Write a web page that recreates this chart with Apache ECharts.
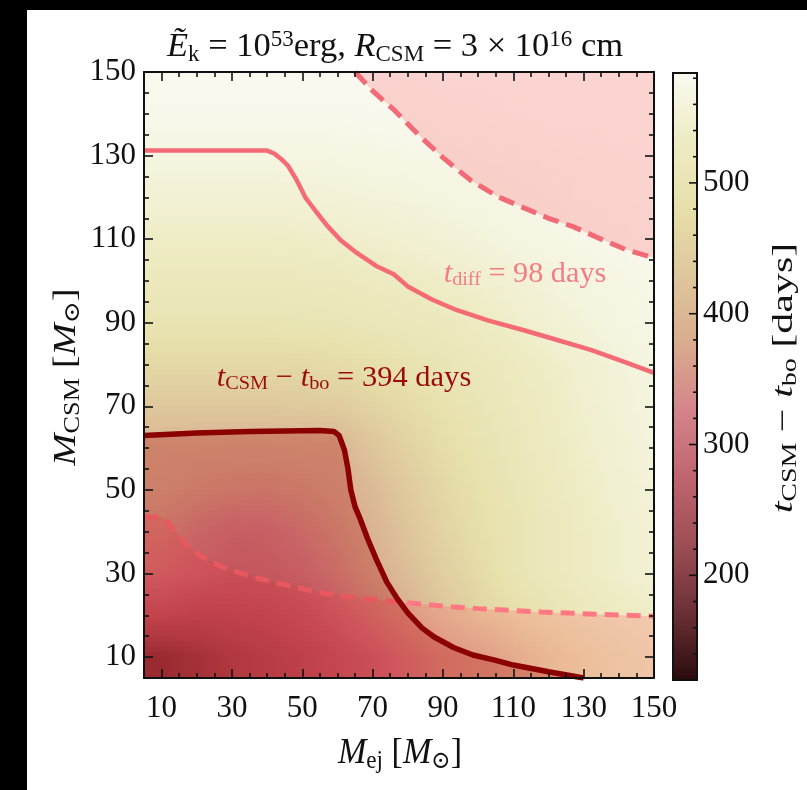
<!DOCTYPE html>
<html>
<head>
<meta charset="utf-8">
<script src="https://cdn.jsdelivr.net/npm/echarts@6/dist/echarts.min.js"></script>
<style>
  html, body { margin: 0; padding: 0; background: #000; }
  #chart { width: 807px; height: 790px; }
</style>
</head>
<body>
<div id="chart"></div>
<script>
// Grid of t_CSM - t_bo [days] over (M_ej, M_CSM), cell centres every 10 Msun
const mejCenters = [10, 20, 30, 40, 50, 60, 70, 80, 90, 100, 110, 120, 130, 140, 150];
const mcsmRows = [150, 140, 130, 120, 110, 100, 90, 80, 70, 60, 50, 40, 30, 20, 10];
const tDelay = [
  [582, 582, 582, 582, 582, 582, 582, 582, 583, 583, 583, 584, 584, 584, 584],
  [577, 577, 577, 577, 577, 577, 578, 579, 580, 581, 582, 583, 583, 584, 584],
  [566, 566, 566, 566, 566, 567, 569, 571, 573, 575, 577, 579, 580, 581, 582],
  [551, 551, 551, 551, 552, 554, 557, 560, 564, 568, 572, 575, 578, 580, 581],
  [535, 535, 535, 535, 537, 540, 543, 547, 552, 558, 564, 569, 573, 576, 578],
  [517, 517, 517, 517, 519, 522, 526, 531, 537, 544, 551, 558, 564, 569, 573],
  [497, 497, 497, 497, 499, 503, 508, 514, 520, 530, 540, 550, 558, 565, 570],
  [464, 464, 464, 464, 467, 472, 480, 490, 500, 512, 524, 536, 547, 556, 564],
  [432, 432, 432, 432, 434, 440, 455, 472, 488, 503, 517, 531, 544, 554, 562],
  [392, 390, 389, 389, 390, 393, 425, 452, 475, 494, 510, 526, 540, 551, 559],
  [380, 370, 362, 360, 368, 380, 405, 437, 463, 485, 503, 520, 535, 547, 556],
  [360, 335, 320, 322, 340, 365, 392, 425, 455, 478, 498, 515, 530, 542, 552],
  [335, 318, 305, 308, 320, 345, 382, 412, 445, 470, 497, 515, 530, 542, 550],
  [275, 265, 268, 275, 290, 315, 348, 385, 425, 455, 478, 498, 515, 528, 538],
  [185, 205, 228, 245, 262, 282, 305, 340, 375, 395, 430, 460, 485, 505, 520]
];

// Contour t_CSM - t_bo = 394 days
const contour394 = [
  [5, 63], [20, 63.6], [35, 64], [55, 64.2], [59, 64], [60.5, 63], [62, 59.5], [63, 55],
  [63.8, 50], [65, 46], [66.5, 43], [68.5, 38.5], [71, 33.5], [74, 28], [77, 24], [80, 20.6],
  [84, 17], [87.5, 14.8], [93, 12.3], [98.5, 10.5], [105, 9.2], [110, 8.1], [120, 6.5], [130, 5]
];
// Contour t_diff = 98 days
const contourDiff = [
  [5, 131.2], [40, 131.2], [42, 130.5], [44, 129.2], [46, 127.5], [48.5, 124], [51, 119.8],
  [54, 116.5], [57, 113.3], [61, 109.7], [65.5, 106.7], [71, 103.6], [76, 101.6], [80, 98.7],
  [87, 95.5], [94, 93], [103, 90.5], [113, 88.2], [122, 86], [132, 83.5], [141, 80.8], [150, 78]
];
// Lower excluded boundary
const lowerBound = [
  [5, 43.5], [10, 43.5], [12, 42], [14, 40], [17, 37], [21, 34.2], [27, 31.6], [35, 29.4],
  [44, 27.5], [54, 25.6], [64, 24.3], [76, 23.3], [90, 22.2], [100, 21.6], [118, 20.8],
  [135, 20.2], [150, 19.8]
];
// Upper excluded boundary
const upperBound = [
  [65, 150], [70, 145.5], [76, 141], [83, 135], [90, 129.5], [98, 124], [106, 120],
  [113, 117.5], [120, 115], [127, 113], [135, 110], [142, 107.5], [150, 105.5]
];

const axisTicks = [10, 30, 50, 70, 90, 110, 130, 150];
const cbarTicks = [200, 300, 400, 500];
const cbarRange = [120, 584];
const palette = ['#2a0a0c', '#6a3035', '#9c4e55', '#c0646e', '#d4848a',
                 '#d9ac8e', '#dec79c', '#e7e0ab', '#eeecc4', '#fafaf2'];

const FONT = '"Liberation Serif", "DejaVu Serif", serif';
const INK = '#111';

// rich-text token styles for math-like labels (zrender text style)
function rich(size, color) {
  const s = Math.round(size * 0.68);
  return {
    n: { fontFamily: FONT, fontSize: size, fill: color },
    it: { fontFamily: FONT, fontSize: size, fontStyle: 'italic', fill: color },
    sub: { fontFamily: FONT, fontSize: s, fill: color, padding: [Math.round(size * 0.42), 0, 0, 0] },
    sup: { fontFamily: FONT, fontSize: s, fill: color, padding: [0, 0, Math.round(size * 0.42), 0] }
  };
}
function label(text, x, y, size, color, rot, sx, sy) {
  return {
    type: 'text', z: 100, x: x, y: y, rotation: rot || 0, scaleX: sx || 1, scaleY: sy || 1,
    style: { text: text, rich: rich(size, color), align: 'center', verticalAlign: 'middle' }
  };
}

const nCols = mejCenters.length;
const heatData = [];
mcsmRows.forEach((y, i) => mejCenters.forEach((x, j) => heatData.push([x, y, tDelay[i][j]])));
const half = (mejCenters[1] - mejCenters[0]) / 2;
const step = 2 * half;

function colorOf(v) {
  const t = (v - cbarRange[0]) / (cbarRange[1] - cbarRange[0]);
  return echarts.color.lerp(Math.min(1, Math.max(0, t)), palette);
}
function cell(i, j) {
  i = Math.max(0, Math.min(mcsmRows.length - 1, i));
  j = Math.max(0, Math.min(nCols - 1, j));
  return tDelay[i][j];
}
// value in column j at height yv, shaded between the neighbouring row centres
function shade(i, j, yc, yv) {
  const w = Math.abs(yv - yc) / step;
  const ni = yv > yc ? i - 1 : i + 1;
  return (1 - w) * cell(i, j) + w * cell(ni, j);
}

// minor tick positions every 5 between 5 and 150, and every 20 on the colour bar
const minorAxis = [];
for (let v = 5; v <= 150; v += 5) if (axisTicks.indexOf(v) < 0) minorAxis.push(v);
const minorCbar = [];
for (let v = 140; v <= 580; v += 20) if (cbarTicks.indexOf(v) < 0) minorCbar.push(v);

const tickStyle = { color: INK, width: 1.6 };
function mainAxis(pos, dim, withLabel) {
  return {
    gridIndex: 0, type: 'value', min: 5, max: 150, position: pos, z: 10,
    axisLine: { show: true, onZero: false, lineStyle: { color: INK, width: 2 } },
    axisTick: { show: true, inside: true, length: 9, customValues: axisTicks, lineStyle: tickStyle },
    axisLabel: withLabel ? { show: true, customValues: axisTicks, fontFamily: FONT, fontSize: 31, color: INK, margin: dim === 'x' ? 15 : 8 } : { show: false },
    splitLine: { show: false }
  };
}
function minorAxisDef(pos) {
  return {
    gridIndex: 0, type: 'value', min: 5, max: 150, position: pos, z: 10,
    axisLine: { show: false, onZero: false },
    axisTick: { show: true, inside: true, length: 5, customValues: minorAxis, lineStyle: tickStyle },
    axisLabel: { show: false }, splitLine: { show: false }
  };
}

const chart = echarts.init(document.getElementById('chart'), null, { renderer: 'canvas' });

const option = {
  backgroundColor: '#000',
  animation: false,
  graphic: [
    { type: 'rect', z: -10, shape: { x: 27, y: 10, width: 780, height: 780 }, style: { fill: '#fff' } },
    label('{it|Ẽ}{sub|k}{n| = 10}{sup|53}{n|erg, }{it|R}{sub|CSM}{n| = 3 × 10}{sup|16}{n| cm}', 395, 47, 30, INK, 0, 1.15, 1.15),
    label('{it|t}{sub|diff}{n| = 98 days}', 525, 274, 27, '#f47c84', 0, 1.12, 1.1),
    label('{it|t}{sub|CSM}{n| − }{it|t}{sub|bo}{n| = 394 days}', 344, 378, 27, '#9a0c0c', 0, 1.13, 1.1),
    label('{it|M}{sub|ej}{n| [}{it|M}{sub|⊙}{n|]}', 400, 754, 31, INK, 0, 1.1, 1.15),
    label('{it|M}{sub|CSM}{n| [}{it|M}{sub|⊙}{n|]}', 66, 377, 31, INK, Math.PI / 2, 1.25, 1.05),
    label('{it|t}{sub|CSM}{n| − }{it|t}{sub|bo}{n| [days]}', 784, 378, 30, INK, Math.PI / 2, 1.4, 1.0)
  ],
  grid: [
    { left: 144, top: 72, width: 510, height: 606 },
    { left: 673, top: 73, width: 24, height: 607 }
  ],
  xAxis: [
    mainAxis('bottom', 'x', true),
    minorAxisDef('bottom'),
    mainAxis('top', 'x', false),
    minorAxisDef('top'),
    { gridIndex: 1, type: 'value', min: 1, max: 2, show: false }
  ],
  yAxis: [
    mainAxis('left', 'y', true),
    minorAxisDef('left'),
    mainAxis('right', 'y', false),
    minorAxisDef('right'),
    { gridIndex: 1, type: 'value', min: cbarRange[0], max: cbarRange[1], position: 'right', z: 10,
      axisLine: { show: false, onZero: false }, axisTick: { show: false },
      axisLabel: { show: true, customValues: cbarTicks, fontFamily: FONT, fontSize: 31, color: INK, margin: 6 },
      splitLine: { show: false } }
  ],
  series: [
    {
      // field cells, each shaded smoothly towards its neighbours
      type: 'custom', xAxisIndex: 0, yAxisIndex: 0, z: 1, data: heatData,
      renderItem: function (params, api) {
        const i = Math.floor(params.dataIndex / nCols), j = params.dataIndex % nCols;
        const x = api.value(0), y = api.value(1);
        const left = api.coord([x - half, y])[0], right = api.coord([x + half, y])[0];
        const cs = params.coordSys;
        const clip = { x: cs.x, y: cs.y, width: cs.width, height: cs.height };
        const N = 8, children = [];
        for (let k = 0; k < N; k++) {
          const yTop = y + half - k * step / N, yBot = yTop - step / N, yMid = (yTop + yBot) / 2;
          const vC = shade(i, j, y, yMid), vL = shade(i, j - 1, y, yMid), vR = shade(i, j + 1, y, yMid);
          const py0 = api.coord([x, yTop])[1], py1 = api.coord([x, yBot])[1];
          const shape = echarts.graphic.clipRectByRect(
            { x: left - 0.5, y: py0 - 0.5, width: right - left + 1, height: py1 - py0 + 1 }, clip);
          if (!shape) continue;
          children.push({
            type: 'rect', shape: shape,
            style: { fill: new echarts.graphic.LinearGradient(left, 0, right, 0, [
              { offset: 0, color: colorOf((vC + vL) / 2) },
              { offset: 0.5, color: colorOf(vC) },
              { offset: 1, color: colorOf((vC + vR) / 2) }
            ], true) }
          });
        }
        return { type: 'group', children: children };
      }
    },
    {
      type: 'line', xAxisIndex: 0, yAxisIndex: 0, z: 4, data: contour394, symbol: 'none',
      lineStyle: { color: '#8b0000', width: 5.5 },
      areaStyle: { origin: 'start', color: 'rgba(170,0,0,0.38)' }
    },
    {
      type: 'line', xAxisIndex: 0, yAxisIndex: 0, z: 3, data: lowerBound, symbol: 'none',
      lineStyle: { color: '#ff7882', width: 5, type: [14, 8] },
      areaStyle: { origin: 'start', color: 'rgba(255,64,84,0.30)' }
    },
    {
      type: 'line', xAxisIndex: 0, yAxisIndex: 0, z: 3, data: upperBound, symbol: 'none',
      lineStyle: { color: '#f26a76', width: 5, type: [16, 8] },
      areaStyle: { origin: 'end', color: 'rgba(255,64,84,0.30)' }
    },
    {
      type: 'line', xAxisIndex: 0, yAxisIndex: 0, z: 3, data: contourDiff, symbol: 'none',
      lineStyle: { color: '#f46a75', width: 4.5 }
    },
    {
      // colour bar with its inward ticks on the right edge
      type: 'custom', xAxisIndex: 4, yAxisIndex: 4, z: 5, data: [[1, cbarRange[0], cbarRange[1]]],
      renderItem: function (params, api) {
        const top = api.coord([1, api.value(2)]);
        const bot = api.coord([2, api.value(1)]);
        const stops = palette.map((c, i) => ({ offset: 1 - i / (palette.length - 1), color: c })).reverse();
        const children = [{
          type: 'rect',
          shape: { x: top[0], y: top[1], width: bot[0] - top[0], height: bot[1] - top[1] },
          style: { fill: new echarts.graphic.LinearGradient(0, 0, 0, 1, stops), stroke: INK, lineWidth: 2 }
        }];
        const edge = bot[0];
        const addTicks = (vals, len) => vals.forEach(v => {
          const py = api.coord([2, v])[1];
          children.push({ type: 'line', shape: { x1: edge - len, y1: py, x2: edge, y2: py },
                          style: { stroke: INK, lineWidth: 1.6 } });
        });
        addTicks(cbarTicks, 8);
        addTicks(minorCbar, 4);
        return { type: 'group', children: children };
      }
    }
  ]
};
chart.setOption(option);
</script>
</body>
</html>
